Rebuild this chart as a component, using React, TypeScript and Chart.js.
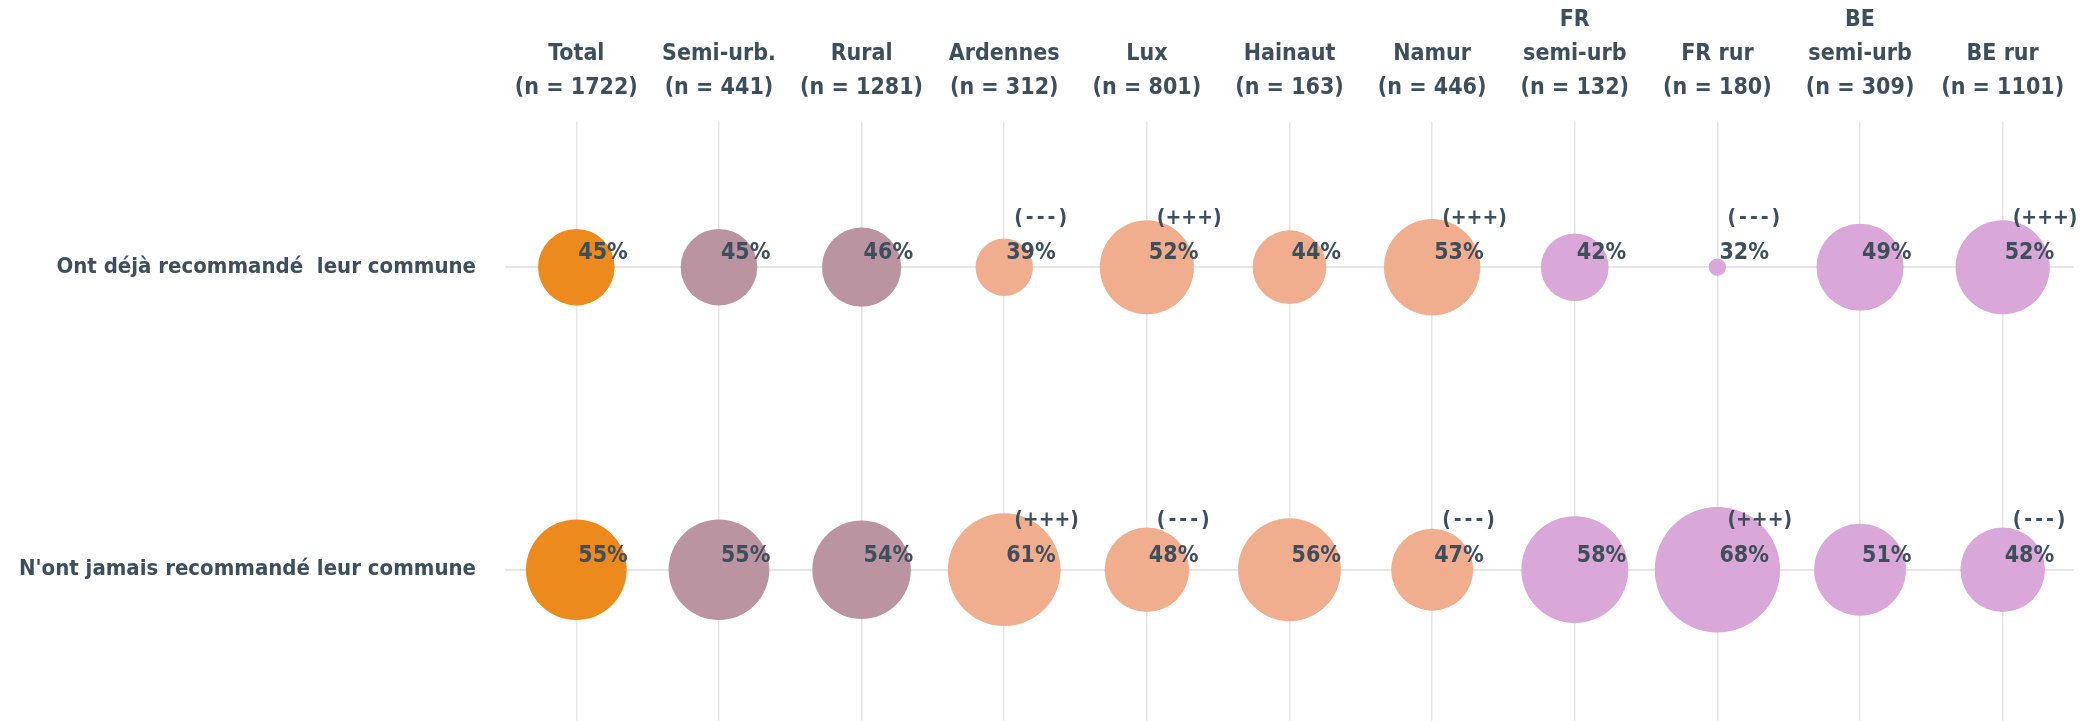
import React, { useEffect, useRef } from "react";
import { Chart, registerables } from "chart.js";

Chart.register(...registerables);

const categoryLines: string[][] = [
  ["Total"],
  ["Semi-urb."],
  ["Rural"],
  ["Ardennes"],
  ["Lux"],
  ["Hainaut"],
  ["Namur"],
  ["FR", "semi-urb"],
  ["FR rur"],
  ["BE", "semi-urb"],
  ["BE rur"],
];
const sampleSizes = [1722, 441, 1281, 312, 801, 163, 446, 132, 180, 309, 1101];
const rowLabels = ["Ont déjà recommandé  leur commune", "N'ont jamais recommandé leur commune"];

const recommended = [45, 45, 46, 39, 52, 44, 53, 42, 32, 49, 52];
const neverRecommended = [55, 55, 54, 61, 48, 56, 47, 58, 68, 51, 48];

const sigRecommended = ["", "", "", "(---)", "(+++)", "", "(+++)", "", "(---)", "", "(+++)"];
const sigNever = ["", "", "", "(+++)", "(---)", "", "(---)", "", "(+++)", "", "(---)"];

const categoryColors = [
  "#EC8A1E",
  "#BA95A1",
  "#BA95A1",
  "#F1AE8F",
  "#F1AE8F",
  "#F1AE8F",
  "#F1AE8F",
  "#D9A7D8",
  "#D9A7D8",
  "#D9A7D8",
  "#D9A7D8",
];

const TEXT = "#3E4F5B";
const GRID = "#E6E6E6";
const FAMILY = "'DejaVu Sans Condensed', 'DejaVu Sans', sans-serif";

const radiusFor = (v: number) => Math.sqrt(Math.max(107 * (v - 31.3), 9));

export default function App() {
  const ref = useRef<HTMLCanvasElement | null>(null);

  useEffect(() => {
    if (!ref.current) return;
    const series = [recommended, neverRecommended];
    const sigs = [sigRecommended, sigNever];

    const labelPlugin = {
      id: "bubbleLabels",
      afterDatasetsDraw(chart: any) {
        const ctx = chart.ctx;
        ctx.save();
        chart.data.datasets.forEach((_ds: any, di: number) => {
          const meta = chart.getDatasetMeta(di);
          meta.data.forEach((el: any, i: number) => {
            const x = el.x;
            const y = el.y;
            ctx.fillStyle = TEXT;
            ctx.font = `bold 23px ${FAMILY}`;
            ctx.textAlign = "left";
            ctx.textBaseline = "alphabetic";
            ctx.fillText(series[di][i] + "%", x + 2, y - 8);
            const s = sigs[di][i];
            if (s) {
              ctx.font = `bold 21px ${FAMILY}`;
              ctx.textBaseline = "middle";
              if ("letterSpacing" in ctx) {
                (ctx as any).letterSpacing = s.includes("-") ? "3px" : "0px";
              }
              ctx.fillText(s, x + 10, y - 49);
              if ("letterSpacing" in ctx) (ctx as any).letterSpacing = "0px";
            }
          });
        });
        ctx.restore();
      },
    };

    const chart = new Chart(ref.current, {
      type: "bubble",
      data: {
        datasets: series.map((vals, row) => ({
          label: rowLabels[row],
          data: vals.map((v, i) => ({ x: i, y: row, r: radiusFor(v) })),
          backgroundColor: categoryColors,
          borderWidth: 0,
          hoverBorderWidth: 0,
          clip: false,
        })),
      },
      options: {
        responsive: false,
        animation: false,
        devicePixelRatio: 1,
        layout: { autoPadding: false, padding: { left: 0, right: 21, top: 0, bottom: 0 } },
        plugins: {
          legend: { display: false },
          tooltip: { enabled: false },
        },
        scales: {
          x: {
            type: "linear",
            position: "top",
            min: -0.5,
            max: 10.5,
            afterBuildTicks: (axis: any) => {
              axis.ticks = categoryLines.map((_, i) => ({ value: i }));
            },
            afterFit: (axis: any) => {
              axis.height = 122;
              axis.paddingLeft = 0;
              axis.paddingRight = 0;
              axis.paddingTop = 0;
              axis.paddingBottom = 0;
            },
            ticks: {
              autoSkip: false,
              maxRotation: 0,
              minRotation: 0,
              padding: 17,
              color: TEXT,
              font: { family: FAMILY, size: 23, weight: "bold", lineHeight: "34px" },
              callback: (value: any) => {
                const i = Number(value);
                if (!categoryLines[i]) return "";
                return [...categoryLines[i], `(n = ${sampleSizes[i]})`];
              },
            },
            grid: { color: GRID, lineWidth: 1.5, drawTicks: false },
            border: { display: false },
          },
          y: {
            type: "linear",
            min: -0.48,
            max: 1.5,
            reverse: true,
            afterBuildTicks: (axis: any) => {
              axis.ticks = rowLabels.map((_, i) => ({ value: i }));
            },
            afterFit: (axis: any) => {
              axis.width = 505;
              axis.paddingLeft = 0;
              axis.paddingRight = 0;
              axis.paddingTop = 0;
              axis.paddingBottom = 0;
            },
            ticks: {
              autoSkip: false,
              padding: 29,
              color: TEXT,
              font: { family: FAMILY, size: 22, weight: "bold" },
              callback: (value: any) => rowLabels[Number(value)] ?? "",
            },
            grid: { color: GRID, lineWidth: 2, drawTicks: false },
            border: { display: false },
          },
        },
      },
      plugins: [labelPlugin],
    } as any);

    return () => chart.destroy();
  }, []);

  return (
    <div style={{ position: "fixed", left: 0, top: 0, width: 2095, height: 721, background: "#fff" }}>
      <canvas ref={ref} width={2095} height={721} style={{ width: 2095, height: 721 }} />
    </div>
  );
}
